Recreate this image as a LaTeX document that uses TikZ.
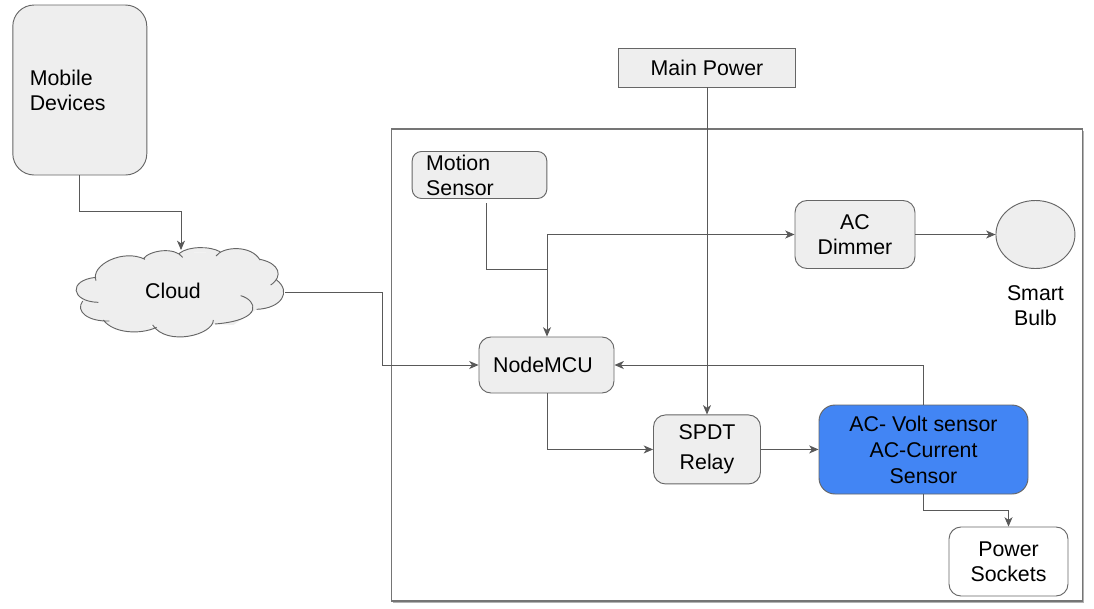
\documentclass[tikz,border=0pt]{standalone}
\usepackage{fontspec}
\setmainfont{Liberation Sans}
\usepackage{tikz}
\usetikzlibrary{shapes.geometric, arrows.meta, positioning, shadows}
\definecolor{boxfill}{HTML}{EEEEEE}
\definecolor{boxline}{HTML}{666666}
\definecolor{wire}{HTML}{595959}
\definecolor{sensorblue}{HTML}{4285F4}

\begin{document}
\begin{tikzpicture}[
    x=0.75pt, y=-0.75pt,
    every node/.style={font=\fontsize{16}{18.75}\selectfont, align=center},
    unit/.style={rectangle, rounded corners=9pt, draw=boxline, fill=boxfill, line width=0.7pt, inner sep=0pt},
    arrow/.style={draw=wire, line width=0.7pt, -{Stealth[length=7pt, width=6pt, inset=2pt]}},
    wire/.style={draw=wire, line width=0.7pt}
]
\useasboundingbox (0,0) rectangle (1094,608);
\node[draw=boxline!90, line width=1.1pt, fill=white, minimum width=518.5pt, minimum height=354pt, inner sep=0pt,
    drop shadow={shadow xshift=1.2pt, shadow yshift=-1.2pt, fill=black, opacity=0.3}] (frame) at (737,365) {};

% left side
\node[unit, rounded corners=16pt, minimum height=127.5pt, text width=75pt, inner xsep=12.75pt, align=left] (mobile) at (79.8,90) {Mobile\\Devices};
\begin{scope}[x=0.25pt, y=-0.25pt, yshift=-127.5pt]
\fill[boxfill] (288,322) -- (430,266) -- (538,250) -- (660,245) -- (780,268) -- (830,330) -- (800,410) -- (770,418) -- (700,465) -- (645,462) -- (550,495) -- (458,465) -- (400,482) -- (310,450) -- (260,440) -- (248,393) -- cycle;
\filldraw[draw=boxline, fill=boxfill, line width=0.7pt]
    (288,332) .. controls (270,285) and (370,235) .. (435,268)
    (430,266) .. controls (450,240) and (525,230) .. (548,262)
    (538,250) .. controls (565,228) and (630,228) .. (660,245)
    (648,258) .. controls (670,228) and (755,225) .. (780,270)
    (780,268) .. controls (840,280) and (850,320) .. (812,345)
    (830,330) .. controls (875,365) and (845,415) .. (770,418)
    (722,377) .. controls (770,390) and (795,450) .. (645,462)
    (640,450) .. controls (640,495) and (500,530) .. (458,465)
    (470,472) .. controls (420,495) and (340,490) .. (310,450)
    (328,453) .. controls (265,455) and (225,425) .. (248,393)
    (295,397) .. controls (212,395) and (203,330) .. (288,322);
\end{scope}
\node (cloud) at (173,291) {Cloud};
\coordinate (cloudtop) at (181,250);
\coordinate (cloudright) at (285,292);

% inside the frame
\node[rectangle, draw=boxline, fill=boxfill, line width=0.7pt, minimum width=132.5pt, minimum height=29.25pt, inner sep=0pt] (power) at (707,67.5) {Main Power};
\node[unit, rounded corners=7pt, minimum height=35.25pt, text width=80pt, inner xsep=10.5pt, align=left] (motion) at (479.5,175) {Motion\\Sensor};
\node[unit, minimum width=90pt, minimum height=51pt] (dimmer) at (855,234.5) {AC\\Dimmer};
\node[ellipse, draw=boxline, fill=boxfill, line width=0.7pt, minimum width=59.25pt, minimum height=51pt, inner sep=0pt, right=60pt of dimmer] (bulb) {};
\node[below=9pt of bulb] (bulblabel) {Smart\\Bulb};
\node[unit, minimum width=101.25pt, minimum height=42pt] (mcu) at (546.5,365) {\hspace{-5.25pt}NodeMCU};
\node[unit, minimum width=80.25pt, minimum height=51.75pt, below=245.25pt of power] (relay) {SPDT\\[3.75pt]Relay};
\node[unit, fill=sensorblue, rounded corners=12pt, minimum width=156.75pt, minimum height=66.75pt] (sensor) at (923.5,449.5) {AC- Volt sensor\\[0.75pt]AC-Current\\[0.75pt]Sensor};
\node[unit, fill=white, minimum width=89.25pt, minimum height=51.75pt] (sockets) at (1008.5,561.5) {Power\\Sockets};

\coordinate (motionout) at (486,203);
\coordinate (junction) at (547,269);
\coordinate (branch) at (547,234.5);

\draw[arrow] (mobile.south) |- (181,211) -- (cloudtop);
\draw[arrow] (cloudright) -| (382,365) -- (mcu.west);
\draw[wire] (motionout) |- (junction);
\draw[arrow] (branch) -- (mcu.north -| branch);
\draw[arrow] (branch) -- (dimmer.west);
\draw[arrow] (dimmer.east) -- (bulb.west);
\draw[arrow] (power.south) -- (relay.north);
\draw[arrow] (mcu.south -| branch) |- (relay.west);
\draw[arrow] (relay.east) -- (relay.east -| sensor.west);
\draw[arrow] (sensor.north) |- (mcu.east);
\draw[arrow] (sensor.south) |- (1008.5,510) -- (sockets.north);
\end{tikzpicture}
\end{document}
